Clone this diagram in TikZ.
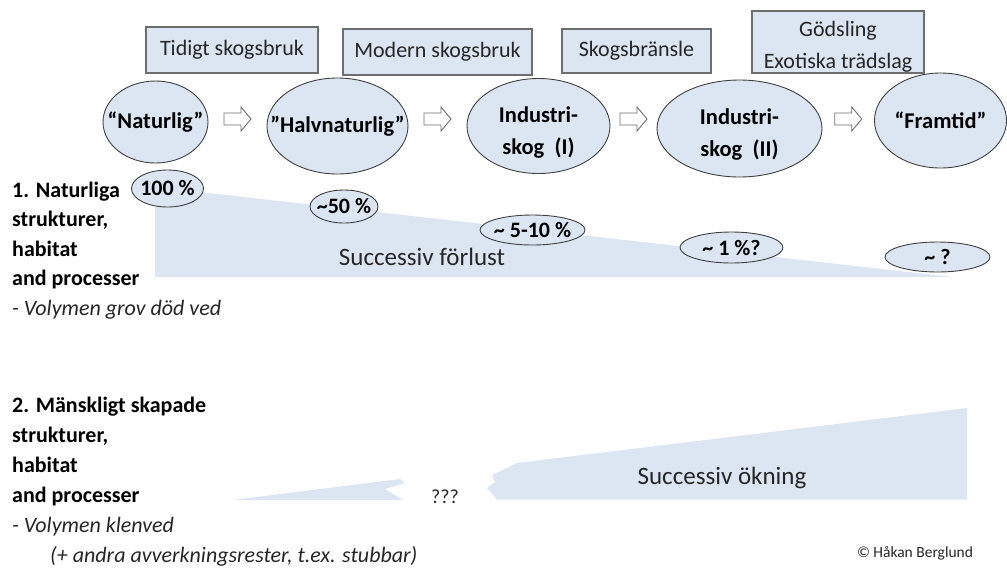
\documentclass[tikz,border=0pt]{standalone}
\usepackage{fontspec}
\setmainfont{Carlito}
\usetikzlibrary{shapes.geometric,calc}
\definecolor{paleblue}{HTML}{DCE6F2}
\definecolor{boxline}{HTML}{6E6E6E}
\definecolor{ringline}{HTML}{3F3F3F}
\definecolor{ink}{HTML}{262626}
\begin{document}
\begin{tikzpicture}[x=1pt,y=-1pt,
  topbox/.style={draw=boxline,fill=paleblue,line width=1.3pt,inner sep=0pt,
    align=center,font=\fontsize{22}{32}\selectfont,text=ink},
  stage/.style={ellipse,draw=ringline,fill=paleblue,line width=0.9pt,inner sep=0pt},
  stagetext/.style={align=center,font=\fontsize{22.5}{32}\selectfont\bfseries,text=black},
  pct/.style={ellipse,draw=ringline,fill=paleblue,line width=0.9pt,inner sep=0pt},
  pcttext/.style={font=\fontsize{22}{24}\selectfont\bfseries,text=black},
  lefttext/.style={anchor=base west,inner sep=0pt,font=\fontsize{22}{26}\selectfont\bfseries,text=black},
  leftnote/.style={lefttext,font=\fontsize{22}{26}\selectfont\itshape,text=ink},
  bigtext/.style={font=\fontsize{25}{28}\selectfont,text=ink},
  wedge/.style={fill=paleblue,draw=none},
  arrowline/.style={draw=boxline,fill=white,line width=0.9pt,line join=miter},
  barrow/.pic={\path[arrowline] (-13.5,-6) -- (3.5,-6) -- (3.5,-12) -- (13.5,0)
    -- (3.5,12) -- (3.5,6) -- (-13.5,6) -- cycle;}
]
\useasboundingbox (0,0) rectangle (1007,568);

% management phases
\node[topbox,minimum width=172,minimum height=46] (b1) at (232,50) {Tidigt skogsbruk};
\node[topbox,minimum width=189,minimum height=46] (b2) at (437.5,52) {Modern skogsbruk};
\node[topbox,minimum width=149,minimum height=44] (b3) at (636.5,51) {Skogsbränsle};
\node[topbox,minimum width=172,minimum height=62] (b4) at (838,42) {};
\node[align=center,font=\fontsize{22}{32}\selectfont,text=ink] (b4t) at ([yshift=-5]b4.center) {Gödsling\\Exotiska trädslag};

% forest stages
\node[stage,minimum width=105,minimum height=82] (n1) at (155.5,122) {};
\node[stage,minimum width=141,minimum height=96] (n2) at (337.5,126) {};
\node[stage,minimum width=143,minimum height=95] (n3) at (538.5,126) {};
\node[stage,minimum width=165,minimum height=97] (n4) at (739.5,128.5) {};
\node[stage,minimum width=132,minimum height=95] (n5) at (940.5,120.5) {};
\node[stagetext] (n1t) at (n1.center) {“Naturlig”};
\node[stagetext] (n2t) at (n2.center) {”Halvnaturlig”};
\node[stagetext] (n3t) at ([yshift=-7]n3.center) {Industri-\\skog~~(I)};
\node[stagetext] (n4t) at ([yshift=-6]n4.center) {Industri-\\skog~~(II)};
\node[stagetext] (n5t) at (n5.center) {“Framtid”};

% block arrows between the stages
\coordinate (g1) at ($(n1.east)!0.5!(n2.west)$);
\coordinate (g2) at ($(n2.east)!0.5!(n3.west)$);
\coordinate (g3) at ($(n3.east)!0.5!(n4.west)$);
\coordinate (g4) at ($(n4.east)!0.5!(n5.west)$);
\pic at (g1 |- 0,119) {barrow};
\pic at (g2 |- 0,119) {barrow};
\pic at (g3 |- 0,119) {barrow};
\pic at (g4 |- 0,119) {barrow};

% decreasing wedge: natural structures
\path[wedge] (155,187) -- (953,277) -- (155,277) -- cycle;
\node[bigtext] (loss) at (422,257) {Successiv förlust};

\node[pct,minimum width=72,minimum height=37,label={[pcttext]center:100 \%}] (p1) at (167.5,188.5) {};
\node[pct,minimum width=68,minimum height=33,label={[pcttext]center:\textasciitilde50 \%}] (p2) at (344,206.5) {};
\node[pct,minimum width=105,minimum height=30,label={[pcttext]center:\textasciitilde\ 5-10 \%}] (p3) at (532.5,230) {};
\node[pct,minimum width=103,minimum height=31,label={[pcttext]center:\textasciitilde\ 1 \%?}] (p4) at (731.5,247.5) {};
\node[pct,minimum width=105,minimum height=30,label={[pcttext]center:\textasciitilde\ ?}] (p5) at (937.5,257) {};

% increasing wedge: man-made structures, broken near the start
\path[wedge] (967,408) -- (967,499.5) -- (497,499.5) -- (487,488) -- (495,482)
  -- (492,475) -- (517,463) -- cycle;
\path[wedge] (232,500) -- (400,479) -- (405,483) -- (385,489) -- (403,500) -- cycle;
\node[bigtext] (gain) at (722,478) {Successiv ökning};
\node[font=\fontsize{20}{24}\selectfont,text=ink] (qq) at (445,497) {???};

% left-hand descriptions
\foreach \t [count=\i from 0] in {{1. Naturliga},{strukturer,},{habitat},{and processer}}
  \node[lefttext] (a\i) at (12,197+29.5*\i) {\t};
\node[leftnote] (a4) at (12,315) {- Volymen grov död ved};
\foreach \t [count=\i from 0] in {{2. Mänskligt skapade},{strukturer,},{habitat},{and processer}}
  \node[lefttext] (c\i) at (12,412+30*\i) {\t};
\node[leftnote] (c4) at (12,532) {- Volymen klenved};
\node[leftnote] (c5) at (50,562) {(+ andra avverkningsrester, t.ex. stubbar)};

\node[font=\fontsize{15.5}{18}\selectfont,text=ink] (copy) at (915,553) {© Håkan Berglund};
\end{tikzpicture}
\end{document}
